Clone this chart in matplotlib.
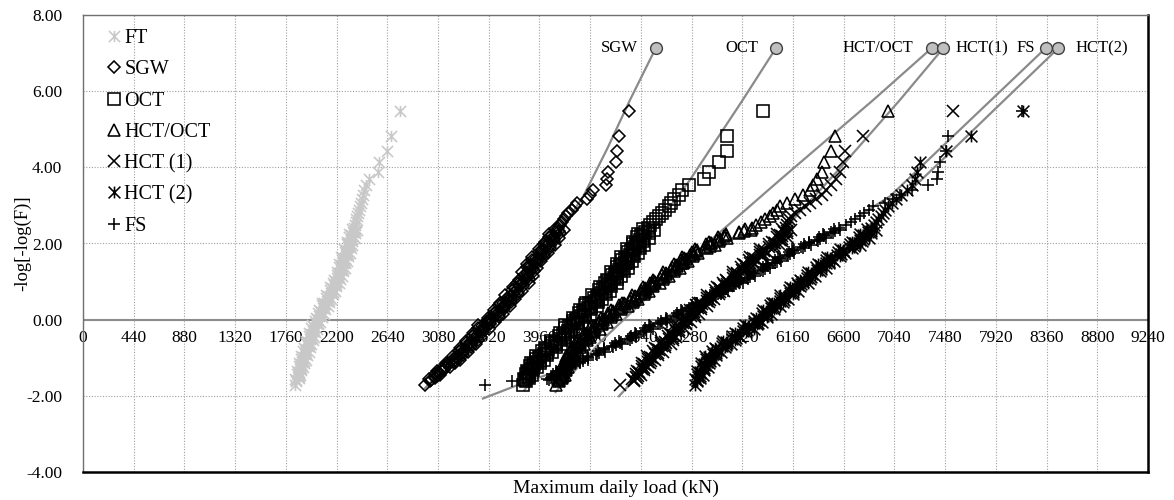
import numpy as np
import matplotlib.pyplot as plt
from matplotlib.path import Path

plt.rcParams['font.family'] = ['Liberation Serif', 'DejaVu Serif']

# Gumbel reduced variate -log[-log(F)] of the ranked daily maxima
plot_pos = [5.49, 4.81, 4.42, 4.13, 3.89, 3.70, 3.54, 3.40, 3.28, 3.17, 3.07, 2.98,
            2.89, 2.80, 2.72, 2.64, 2.56, 2.48, 2.40, 2.30, 2.20, 2.10, 2.00, 1.90,
            1.80, 1.70, 1.60, 1.50, 1.40, 1.30, 1.20, 1.10, 1.00, 0.90, 0.80, 0.70,
            0.60, 0.50, 0.40, 0.30, 0.20, 0.10, 0.00, -0.10, -0.20, -0.30, -0.40, -0.50,
            -0.60, -0.70, -0.80, -0.90, -1.00, -1.10, -1.20, -1.30, -1.40, -1.50, -1.60, -1.71]
# the crowded middle ranks, between the levels above
plot_pos_mid = [2.35, 2.25, 2.15, 2.05, 1.95, 1.85, 1.75, 1.65, 1.55, 1.45,
                1.35, 1.25, 1.15, 1.05, 0.95, 0.85, 0.75, 0.65, 0.55, 0.45,
                0.35, 0.25, 0.15, 0.05, -0.05, -0.15, -0.25, -0.35, -0.45, -0.55,
                -0.65, -0.75, -0.85, -0.95, -1.05, -1.15, -1.25, -1.35, -1.45, -1.55]
plot_pos_q1 = [2.375, 2.275, 2.175, 2.075, 1.975, 1.875, 1.775, 1.675, 1.575, 1.475,
               1.375, 1.275, 1.175, 1.075, 0.975, 0.875, 0.775, 0.675, 0.575, 0.475,
               0.375, 0.275, 0.175, 0.075, -0.025, -0.125, -0.225, -0.325, -0.425, -0.525,
               -0.625, -0.725, -0.825, -0.925, -1.025, -1.125, -1.225, -1.325, -1.425, -1.525]
plot_pos_q2 = [2.325, 2.225, 2.125, 2.025, 1.925, 1.825, 1.725, 1.625, 1.525, 1.425,
               1.325, 1.225, 1.125, 1.025, 0.925, 0.825, 0.725, 0.625, 0.525, 0.425,
               0.325, 0.225, 0.125, 0.025, -0.075, -0.175, -0.275, -0.375, -0.475, -0.575,
               -0.675, -0.775, -0.875, -0.975, -1.075, -1.175, -1.275, -1.375, -1.475, -1.575]

# maximum daily load (kN) per vehicle class
ft_load = [2750, 2672, 2640, 2571, 2557, 2484, 2455, 2440, 2428, 2420, 2410, 2402,
           2395, 2388, 2380, 2372, 2366, 2360, 2352, 2344, 2334, 2322, 2312, 2300,
           2290, 2280, 2270, 2260, 2248, 2236, 2222, 2208, 2194, 2180, 2166, 2150,
           2134, 2116, 2098, 2082, 2066, 2050, 2036, 2022, 2008, 1996, 1984, 1972,
           1960, 1948, 1936, 1924, 1914, 1904, 1894, 1884, 1874, 1864, 1852, 1839]
ft_load_mid = [2378, 2311, 2363, 2292, 2338, 2265, 2313, 2242, 2290, 2224,
               2277, 2201, 2245, 2176, 2220, 2143, 2186, 2110, 2150, 2077,
               2122, 2046, 2088, 2018, 2057, 1983, 2032, 1962, 2003, 1936,
               1982, 1917, 1960, 1891, 1934, 1877, 1909, 1859, 1887, 1843]
ft_load_q1 = [2332, 2363, 2307, 2338, 2288, 2322, 2270, 2299, 2244, 2275,
              2224, 2257, 2201, 2226, 2167, 2195, 2141, 2170, 2112, 2133,
              2070, 2096, 2041, 2071, 2015, 2040, 1981, 2011, 1960, 1993,
              1939, 1966, 1909, 1940, 1894, 1917, 1877, 1894, 1860, 1870]
ft_load_q2 = [2358, 2325, 2334, 2303, 2318, 2284, 2295, 2258, 2272, 2239,
              2254, 2217, 2224, 2183, 2193, 2158, 2169, 2129, 2133, 2088,
              2095, 2058, 2069, 2031, 2038, 1997, 2008, 1975, 1990, 1954,
              1963, 1924, 1936, 1905, 1916, 1888, 1893, 1871, 1873, 1852]

sgw_load = [4740, 4650, 4630, 4624, 4555, 4543, 4538, 4427, 4400, 4370, 4290, 4270,
            4240, 4210, 4190, 4170, 4155, 4140, 4125, 4108, 4085, 4062, 4040, 4018,
            3995, 3970, 3945, 3910, 3890, 3875, 3860, 3840, 3815, 3790, 3765, 3738,
            3712, 3686, 3660, 3633, 3605, 3575, 3540, 3505, 3475, 3445, 3418, 3390,
            3362, 3335, 3305, 3278, 3245, 3210, 3165, 3120, 3085, 3050, 3010, 2967]
sgw_load_mid = [4172, 4047, 4134, 4006, 4094, 3952, 4033, 3898, 3973, 3850,
                3943, 3813, 3900, 3783, 3868, 3728, 3807, 3665, 3744, 3618,
                3707, 3569, 3645, 3513, 3573, 3430, 3525, 3382, 3449, 3321,
                3409, 3275, 3342, 3207, 3273, 3148, 3183, 3068, 3098, 3005]
sgw_load_q1 = [4091, 4137, 4039, 4087, 4000, 4052, 3959, 3999, 3896, 3935,
               3851, 3911, 3825, 3869, 3769, 3814, 3723, 3772, 3676, 3715,
               3613, 3656, 3563, 3606, 3501, 3533, 3428, 3468, 3376, 3423,
               3325, 3363, 3258, 3300, 3206, 3224, 3129, 3131, 3056, 3055]
sgw_load_q2 = [4132, 4071, 4083, 4026, 4049, 3986, 3996, 3926, 3934, 3875,
               3904, 3849, 3865, 3796, 3811, 3751, 3770, 3704, 3713, 3642,
               3655, 3592, 3608, 3534, 3534, 3458, 3468, 3405, 3422, 3354,
               3362, 3288, 3300, 3233, 3234, 3161, 3141, 3084, 3069, 3015]

oct_load = [5897, 5590, 5590, 5521, 5429, 5388, 5260, 5194, 5174, 5130, 5100, 5080,
            5050, 5020, 4995, 4970, 4945, 4920, 4900, 4880, 4858, 4835, 4812, 4790,
            4768, 4745, 4722, 4700, 4676, 4652, 4628, 4604, 4580, 4552, 4525, 4498,
            4470, 4440, 4410, 4380, 4350, 4320, 4290, 4262, 4234, 4206, 4178, 4140,
            4105, 4070, 4035, 4000, 3968, 3940, 3912, 3890, 3870, 3855, 3840, 3820]
oct_load_mid = [4950, 4814, 4912, 4774, 4871, 4719, 4812, 4669, 4761, 4633,
                4729, 4580, 4671, 4542, 4636, 4484, 4572, 4419, 4505, 4365,
                4460, 4310, 4395, 4255, 4331, 4183, 4290, 4137, 4209, 4063,
                4143, 4008, 4068, 3934, 3999, 3886, 3936, 3850, 3893, 3823]
oct_load_q1 = [4862, 4914, 4808, 4862, 4768, 4829, 4729, 4778, 4673, 4727,
               4631, 4690, 4589, 4637, 4529, 4578, 4479, 4535, 4430, 4472,
               4359, 4406, 4304, 4357, 4250, 4294, 4183, 4232, 4130, 4175,
               4063, 4100, 3982, 4025, 3928, 3961, 3879, 3907, 3844, 3868]
oct_load_q2 = [4907, 4842, 4858, 4796, 4824, 4757, 4773, 4700, 4723, 4660,
               4686, 4617, 4632, 4558, 4576, 4510, 4533, 4460, 4470, 4390,
               4405, 4336, 4356, 4281, 4291, 4213, 4230, 4163, 4178, 4097,
               4101, 4016, 4026, 3954, 3964, 3902, 3907, 3864, 3870, 3838]

hctoct_load = [6987, 6524, 6490, 6429, 6409, 6366, 6336, 6308, 6250, 6180, 6111, 6050,
               6020, 5990, 5960, 5920, 5880, 5840, 5800, 5690, 5560, 5500, 5450, 5400,
               5320, 5270, 5230, 5190, 5150, 5105, 5060, 5010, 4965, 4925, 4885, 4840,
               4795, 4750, 4700, 4650, 4600, 4555, 4514, 4480, 4445, 4410, 4378, 4345,
               4315, 4290, 4265, 4242, 4222, 4205, 4190, 4178, 4165, 4150, 4130, 4100]
hctoct_load_mid = [5795, 5580, 5585, 5435, 5485, 5310, 5340, 5195, 5250, 5125,
                   5183, 5033, 5080, 4948, 5005, 4860, 4913, 4763, 4813, 4675,
                   4730, 4580, 4628, 4495, 4542, 4408, 4488, 4349, 4402, 4280,
                   4348, 4243, 4294, 4192, 4249, 4168, 4209, 4147, 4178, 4125]
hctoct_load_q1 = [5746, 5690, 5509, 5515, 5406, 5416, 5281, 5292, 5184, 5207,
                  5107, 5130, 5021, 5031, 4919, 4942, 4842, 4865, 4757, 4770,
                  4652, 4665, 4557, 4581, 4479, 4503, 4400, 4429, 4338, 4374,
                  4282, 4316, 4223, 4264, 4191, 4224, 4164, 4193, 4143, 4159]
hctoct_load_q2 = [5736, 5575, 5529, 5445, 5436, 5326, 5301, 5217, 5214, 5142,
                  5139, 5057, 5041, 4953, 4949, 4877, 4874, 4792, 4779, 4690,
                  4677, 4595, 4589, 4510, 4507, 4431, 4433, 4368, 4376, 4309,
                  4314, 4248, 4262, 4209, 4223, 4180, 4190, 4159, 4163, 4130]

hct1_load = [7545, 6770, 6611, 6597, 6568, 6530, 6490, 6450, 6410, 6360, 6310, 6260,
             6221, 6180, 6140, 6128, 6118, 6105, 6095, 6080, 6065, 6045, 6000, 5955,
             5910, 5870, 5828, 5790, 5754, 5716, 5678, 5640, 5600, 5565, 5528, 5490,
             5450, 5410, 5370, 5335, 5305, 5275, 5240, 5205, 5175, 5145, 5115, 5085,
             5055, 5025, 4995, 4965, 4935, 4905, 4878, 4850, 4825, 4800, 4780, 4659]
hct1_load_mid = [6143, 6023, 6115, 5978, 6043, 5878, 5940, 5789, 5854, 5722,
                 5795, 5642, 5709, 5575, 5648, 5497, 5564, 5410, 5475, 5335,
                 5413, 5270, 5345, 5213, 5273, 5130, 5225, 5080, 5145, 5015,
                 5100, 4965, 5030, 4895, 4965, 4852, 4904, 4803, 4843, 4765]
hct1_load_q1 = [6061, 6111, 6020, 6064, 5954, 5984, 5870, 5895, 5779, 5811,
                5710, 5747, 5639, 5665, 5551, 5586, 5484, 5520, 5410, 5435,
                5321, 5358, 5263, 5306, 5201, 5233, 5128, 5168, 5073, 5118,
                5018, 5053, 4948, 4988, 4898, 4923, 4846, 4864, 4799, 4810]
hct1_load_q2 = [6104, 6049, 6065, 5991, 5991, 5906, 5900, 5814, 5815, 5743,
                5751, 5673, 5670, 5585, 5589, 5517, 5525, 5445, 5440, 5355,
                5359, 5293, 5308, 5234, 5234, 5158, 5168, 5103, 5118, 5048,
                5053, 4978, 4988, 4923, 4928, 4870, 4867, 4821, 4816, 4780]

hct2_load = [8158, 7702, 7487, 7262, 7233, 7219, 7190, 7150, 7100, 7050, 7016, 6985,
             6960, 6944, 6920, 6900, 6880, 6860, 6835, 6810, 6780, 6741, 6700, 6650,
             6590, 6540, 6495, 6450, 6405, 6365, 6325, 6285, 6245, 6205, 6165, 6130,
             6090, 6050, 6010, 5970, 5935, 5900, 5865, 5825, 5780, 5730, 5680, 5630,
             5585, 5545, 5505, 5470, 5440, 5415, 5395, 5375, 5355, 5340, 5325, 5310]
hct2_load_mid = [6878, 6745, 6821, 6676, 6740, 6565, 6615, 6458, 6518, 6378,
                 6445, 6290, 6355, 6220, 6290, 6135, 6203, 6050, 6115, 5975,
                 6050, 5903, 5973, 5838, 5895, 5743, 5820, 5655, 5700, 5553,
                 5625, 5480, 5538, 5400, 5473, 5365, 5425, 5330, 5378, 5308]
hct2_load_q1 = [6799, 6838, 6730, 6761, 6653, 6675, 6548, 6564, 6444, 6469,
                6360, 6395, 6285, 6310, 6195, 6225, 6121, 6160, 6050, 6075,
                5960, 5991, 5891, 5931, 5825, 5849, 5728, 5748, 5633, 5659,
                5545, 5570, 5456, 5493, 5404, 5435, 5365, 5390, 5331, 5351]
hct2_load_q2 = [6836, 6768, 6766, 6690, 6688, 6590, 6573, 6481, 6476, 6396,
                6400, 6320, 6315, 6230, 6230, 6155, 6164, 6085, 6080, 5995,
                5995, 5924, 5934, 5859, 5855, 5766, 5758, 5673, 5668, 5581,
                5575, 5490, 5494, 5428, 5436, 5385, 5390, 5350, 5354, 5324]

fs_load = [8150, 7508, 7487, 7435, 7421, 7407, 7334, 7190, 7088, 7030, 6960, 6857,
           6820, 6780, 6740, 6700, 6660, 6620, 6560, 6490, 6430, 6370, 6300, 6230,
           6160, 6105, 6050, 5990, 5940, 5880, 5820, 5760, 5700, 5640, 5580, 5520,
           5460, 5395, 5330, 5262, 5195, 5125, 5060, 4990, 4925, 4860, 4795, 4730,
           4660, 4590, 4520, 4450, 4380, 4310, 4240, 4170, 4100, 4067, 3719, 3488]
fs_load_mid = [6570, 6420, 6450, 6300, 6320, 6150, 6173, 6028, 6055, 5925,
               5960, 5805, 5830, 5695, 5725, 5570, 5595, 5440, 5463, 5318,
               5346, 5189, 5205, 5058, 5065, 4908, 4948, 4788, 4798, 4650,
               4675, 4520, 4525, 4370, 4385, 4240, 4235, 4105, 4104, 4030]
fs_load_q1 = [6519, 6503, 6383, 6377, 6255, 6245, 6122, 6119, 6003, 6002,
              5897, 5897, 5781, 5773, 5653, 5649, 5537, 5537, 5420, 5407,
              5281, 5269, 5150, 5141, 5019, 5002, 4877, 4868, 4751, 4745,
              4619, 4601, 4471, 4457, 4339, 4313, 4203, 4169, 4076, 4060]
fs_load_q2 = [6524, 6429, 6397, 6302, 6268, 6166, 6135, 6044, 6017, 5937,
              5915, 5823, 5791, 5695, 5667, 5579, 5555, 5463, 5427, 5326,
              5291, 5196, 5163, 5064, 5024, 4921, 4888, 4795, 4766, 4666,
              4624, 4518, 4480, 4382, 4340, 4246, 4196, 4110, 4083, 4045]

# fitted distribution curves
sgw_fit_x = [2967, 3350, 3700, 4000, 4200, 4341, 4550, 4746, 4969]
sgw_fit_y = [-1.80, -0.60, 0.60, 1.75, 2.60, 3.24, 4.50, 5.77, 7.13]
oct_fit_x = [3830, 4150, 4450, 4750, 4980, 5266, 5724, 6012]
oct_fit_y = [-1.85, -0.50, 0.60, 1.70, 2.50, 3.67, 5.77, 7.13]
hctoct_fit_x = [4100, 4500, 4900, 5353, 6047, 6857, 7363]
hctoct_fit_y = [-1.90, -0.55, 0.60, 1.84, 3.67, 5.77, 7.13]
hct1_fit_x = [4650, 4804, 5100, 5450, 5800, 6134, 6560, 7088, 7464]
hct1_fit_y = [-2.01, -1.50, -0.60, 0.50, 1.55, 2.54, 3.95, 5.77, 7.13]
hct2_fit_x = [5310, 5600, 6000, 6400, 6750, 7110, 7560, 7995, 8462]
hct2_fit_y = [-1.75, -0.75, 0.30, 1.35, 2.30, 3.20, 4.50, 5.77, 7.13]
fs_fit_x = [3470, 3820, 4110, 4700, 5300, 5900, 6568, 7002, 7425, 7880, 8352]
fs_fit_y = [-2.07, -1.66, -1.36, -0.50, 0.45, 1.35, 2.41, 3.24, 4.46, 5.77, 7.13]

end_names = ["SGW", "OCT", "HCT/OCT", "HCT(1)", "FS", "HCT(2)"]
end_x = [4969, 6012, 7363, 7464, 8352, 8462]
end_y = [7.13, 7.13, 7.13, 7.13, 7.13, 7.13]

x_ticks = list(range(0, 9241, 440))
y_ticks = [-4, -2, 0, 2, 4, 6, 8]

# excel style "star": cross with a vertical bar
star = Path([(-1, -1), (1, 1), (-1, 1), (1, -1), (0, -1), (0, 1)],
            [Path.MOVETO, Path.LINETO] * 3)

fig = plt.figure(figsize=(11.74, 5.0), dpi=100)
ax = fig.add_axes([83 / 1174, 28 / 500, 1065 / 1174, 457 / 500])

ax.set_xlim(0, 9240)
ax.set_ylim(-4, 8)
ax.set_xticks(x_ticks)
ax.set_yticks(y_ticks)
ax.set_yticklabels([f"{v:.2f}" for v in y_ticks])
ax.tick_params(axis='both', length=0, labelsize=12.5)
ax.tick_params(axis='x', labelbottom=False)
ax.tick_params(axis='y', pad=15)
ax.grid(True, color='#a0a0a0', linestyle=(0, (1, 1.5)), linewidth=0.8)
ax.set_axisbelow(True)
ax.axhline(0, color='#8c8c8c', linewidth=1.5, zorder=1.2)

for s in ['left', 'top']:
    ax.spines[s].set_color('#707070')
    ax.spines[s].set_linewidth(1.0)
for s in ['right', 'bottom']:
    ax.spines[s].set_color('black')
    ax.spines[s].set_linewidth(1.8)

# x tick labels sit on the zero line
for xt in x_ticks:
    ax.annotate(str(xt), (xt, 0), xytext=(0, -10), textcoords='offset pixels',
                ha='center', va='top', fontsize=12.5, zorder=1.5)

fits = [(sgw_fit_x, sgw_fit_y), (oct_fit_x, oct_fit_y), (hctoct_fit_x, hctoct_fit_y),
        (hct1_fit_x, hct1_fit_y), (hct2_fit_x, hct2_fit_y), (fs_fit_x, fs_fit_y)]
for fx, fy in fits:
    ax.plot(fx, fy, color='#8a8a8a', linewidth=1.6, zorder=2)

all_pos = plot_pos + plot_pos_mid + plot_pos_q1 + plot_pos_q2
series = [
    ("FT", ft_load + ft_load_mid + ft_load_q1 + ft_load_q2, star, '#c8c8c8', 8),
    ("SGW", sgw_load + sgw_load_mid + sgw_load_q1 + sgw_load_q2, 'D', 'black', 6),
    ("OCT", oct_load + oct_load_mid + oct_load_q1 + oct_load_q2, 's', 'black', 8.5),
    ("HCT/OCT", hctoct_load + hctoct_load_mid + hctoct_load_q1 + hctoct_load_q2, '^', 'black', 9),
    ("HCT (1)", hct1_load + hct1_load_mid + hct1_load_q1 + hct1_load_q2, 'x', 'black', 8.5),
    ("HCT (2)", hct2_load + hct2_load_mid + hct2_load_q1 + hct2_load_q2, star, 'black', 8.5),
    ("FS", fs_load + fs_load_mid + fs_load_q1 + fs_load_q2, '+', 'black', 8),
]
for name, load, mk, col, ms in series:
    ax.plot(load, all_pos, linestyle='none', marker=mk, markersize=ms,
            markerfacecolor='none', markeredgecolor=col, markeredgewidth=1.15,
            label=name, zorder=3)

ax.plot(end_x, end_y, linestyle='none', marker='o', markersize=8.5,
        markerfacecolor='#bfbfbf', markeredgecolor='#404040', markeredgewidth=1.0,
        zorder=5)
offsets = {"SGW": -18, "OCT": -18, "HCT/OCT": -18, "HCT(1)": 12, "FS": -11, "HCT(2)": 17}
for name, ex, ey in zip(end_names, end_x, end_y):
    dx = offsets[name]
    ax.annotate(name, (ex, ey), xytext=(dx, 0), textcoords='offset pixels',
                ha='right' if dx < 0 else 'left', va='center', fontsize=12)

ax.legend(loc='upper left', bbox_to_anchor=(0.0094, 1.0), frameon=False, fontsize=14.5,
          handlelength=0.7, handletextpad=0.15, labelspacing=0.6, borderaxespad=0.3)

ax.set_xlabel("Maximum daily load (kN)", fontsize=14)
ax.set_ylabel("-log[-log(F)]", fontsize=13.5)
ax.xaxis.set_label_coords(0.5, -0.017)
ax.yaxis.set_label_coords(-0.049, 0.5)

fig.savefig("out.png", dpi=100)
